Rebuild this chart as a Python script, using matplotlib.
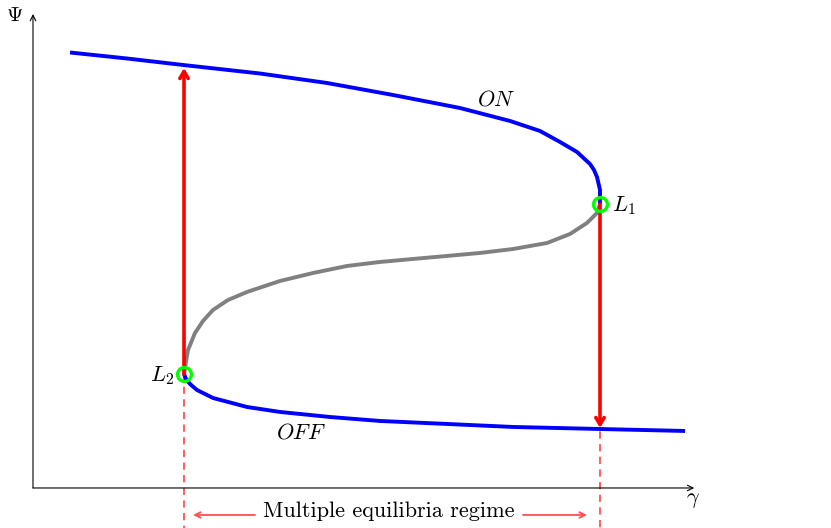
import matplotlib
matplotlib.use("Agg")
import matplotlib.pyplot as plt

plt.rcParams["mathtext.fontset"] = "cm"
plt.rcParams["font.family"] = ["cmr10", "DejaVu Serif"]

# stable upper branch (ON)
gamma_on = [0.617, 1.567, 2.5, 3.783, 4.9, 6.0, 7.117, 7.95, 8.45, 8.783, 9.067,
            9.283, 9.35, 9.4, 9.45, 9.45]
psi_on = [7.258, 7.158, 7.05, 6.908, 6.75, 6.55, 6.333, 6.117, 5.95, 5.767, 5.6,
          5.4, 5.3, 5.183, 4.967, 4.733]

# unstable middle branch
gamma_mid = [2.517, 2.533, 2.583, 2.7, 2.833, 3.0, 3.25, 3.567, 4.117, 4.667, 5.233,
             5.783, 6.333, 6.9, 7.45, 8.0, 8.567, 8.95, 9.233, 9.4, 9.45]
psi_mid = [1.9, 2.0, 2.3, 2.583, 2.783, 2.967, 3.133, 3.267, 3.45, 3.583, 3.7,
           3.767, 3.817, 3.867, 3.917, 3.983, 4.083, 4.233, 4.417, 4.583, 4.733]

# stable lower branch (OFF)
gamma_off = [2.517, 2.55, 2.617, 2.733, 3.0, 3.567, 4.117, 4.95, 5.783, 6.9, 8.0, 9.45, 10.867]
psi_off = [1.9, 1.817, 1.733, 1.633, 1.5, 1.35, 1.267, 1.183, 1.117, 1.067, 1.017, 0.983, 0.95]

# fold points
fold_gamma = [9.45, 2.517]
fold_psi = [4.733, 1.9]
fold_labels = ["$L_1$", "$L_2$"]

# jumps (start psi, end psi)
jump_up = (1.9, 7.0)
jump_down = (4.733, 1.0)

fig = plt.figure(figsize=(8.31, 5.28), dpi=100)
ax = fig.add_axes([0, 0, 1, 1])
ax.set_xlim(-0.55, 13.3)
ax.set_ylim(-0.667, 8.133)
ax.axis("off")

# axes with arrows
ax.annotate("", xy=(11.02, 0), xytext=(0, 0),
            arrowprops=dict(arrowstyle="->", color="black", lw=0.8, shrinkA=0, shrinkB=0))
ax.annotate("", xy=(0, 7.9), xytext=(0, 0),
            arrowprops=dict(arrowstyle="->", color="black", lw=0.8, shrinkA=0, shrinkB=0))
ax.text(-0.3, 7.87, r"$\Psi$", fontsize=15, ha="center", va="center")
ax.text(11.0, -0.2, r"$\gamma$", fontsize=16, ha="center", va="center")

# dashed regime boundaries
for g, p in zip(fold_gamma, fold_psi):
    ax.plot([g, g], [p, -0.7], ls=(0, (4, 3)), color="#ff5050", lw=1.3, zorder=1)

# branches
ax.plot(gamma_mid, psi_mid, color="#808080", lw=2.8, solid_capstyle="round",
        solid_joinstyle="round", zorder=2)
ax.plot(gamma_on, psi_on, color="#0000ff", lw=2.8, solid_capstyle="butt",
        solid_joinstyle="round", zorder=3)
ax.plot(gamma_off, psi_off, color="#0000ff", lw=2.8, solid_capstyle="butt",
        solid_joinstyle="round", zorder=3)

# hysteresis jumps
ax.annotate("", xy=(fold_gamma[1], jump_up[1]), xytext=(fold_gamma[1], jump_up[0]),
            arrowprops=dict(arrowstyle="->,head_length=0.5,head_width=0.3", color="red",
                            lw=2.6, shrinkA=0, shrinkB=0), zorder=4)
ax.annotate("", xy=(fold_gamma[0], jump_down[1]), xytext=(fold_gamma[0], jump_down[0]),
            arrowprops=dict(arrowstyle="->,head_length=0.5,head_width=0.3", color="red",
                            lw=2.6, shrinkA=0, shrinkB=0), zorder=4)

# fold markers
ax.plot(fold_gamma, fold_psi, "o", ms=10, mfc="none", mec="#00ff00", mew=2.4, zorder=5)
ax.text(fold_gamma[0] + 0.2, fold_psi[0] - 0.03, fold_labels[0], fontsize=16, ha="left", va="center")
ax.text(fold_gamma[1] - 0.17, fold_psi[1] - 0.03, fold_labels[1], fontsize=16, ha="right", va="center")

ax.text(7.73, 6.47, "$ON$", fontsize=16, ha="center", va="center")
ax.text(4.47, 0.92, "$OFF$", fontsize=16, ha="center", va="center")

# multiple equilibria regime annotation
y_reg = -0.45
ax.annotate("", xy=(2.667, y_reg), xytext=(3.7, y_reg),
            arrowprops=dict(arrowstyle="->", color="#ff5050", lw=1.3, shrinkA=0, shrinkB=0))
ax.annotate("", xy=(9.233, y_reg), xytext=(8.167, y_reg),
            arrowprops=dict(arrowstyle="->", color="#ff5050", lw=1.3, shrinkA=0, shrinkB=0))
ax.text(5.93, y_reg + 0.07, "Multiple equilibria regime", fontsize=16, ha="center", va="center")

fig.savefig("out.png", dpi=100)
